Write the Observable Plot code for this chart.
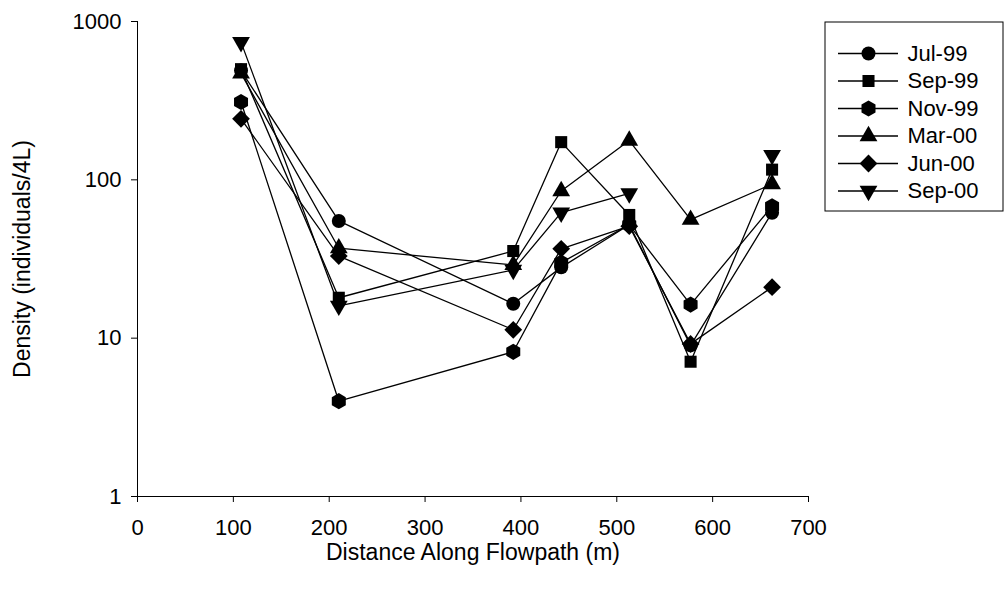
<!DOCTYPE html>
<html><head><meta charset="utf-8">
<script src="https://cdn.jsdelivr.net/npm/d3@7"></script>
<script src="https://cdn.jsdelivr.net/npm/@observablehq/plot@0.6"></script>
<style>
body{margin:0;background:#fff;}
#wrap{position:relative;width:1008px;height:592px;background:#fff;}
#chart{position:absolute;left:0;top:0;}
#legend{position:absolute;left:824px;top:21px;}
</style></head><body><div id="wrap"><div id="chart"></div><div id="legend"></div></div>
<script>
// ---- data ----
const distances = [108, 210, 392, 442, 513, 577, 662];
const seriesNames = ["Jul-99", "Sep-99", "Nov-99", "Mar-00", "Jun-00", "Sep-00"];
const jul99 = [490, 55, 16.5, 28, 52, 9, 62];
const sep99 = [500, 18, 35.5, 173, 60, 7.1, 116];
const nov99 = [310, 4, 8.2, 30, 52, 16.3, 68];
const mar00 = [470, 37, 29, 85, 177, 56, 94];
const jun00 = [243, 33, 11.3, 36.7, 51, 9.2, 21];
const sep00 = [741, 16, 27, 62, 82, null, 143];
const xTicks = [0, 100, 200, 300, 400, 500, 600, 700];
const yTicks = [1, 10, 100, 1000];

// ---- symbols ----
const sqrt3 = Math.sqrt(3);
const triangleDown = {
  draw(context, size) {
    const y = -Math.sqrt(size / (sqrt3 * 3));
    context.moveTo(0, -y * 2);
    context.lineTo(-sqrt3 * y, y);
    context.lineTo(sqrt3 * y, y);
    context.closePath();
  }
};
const seriesValues = [jul99, sep99, nov99, mar00, jun00, sep00];
const symbols = ["circle", "square", "hexagon", "triangle", "diamond2", triangleDown];
const radii = [7, 6.8, 7, 6.6, 8, 6.6];

const table = [];
seriesNames.forEach((name, i) => {
  distances.forEach((d, j) => {
    const v = seriesValues[i][j];
    table.push({series: name, x: d, y: v == null ? NaN : v});
  });
});

const font = "'Liberation Sans', Arial, Helvetica, sans-serif";

const dots = seriesNames.map((name, i) =>
  Plot.dot(table.filter(d => d.series === name && !isNaN(d.y)), {
    x: "x", y: "y", symbol: symbols[i], r: radii[i], fill: "#000", stroke: "none"
  })
);

const chart = Plot.plot({
  width: 812, height: 592,
  marginLeft: 137, marginRight: 4, marginTop: 21, marginBottom: 96,
  style: {fontFamily: font, fontSize: "22px", color: "#000", background: "#fff", overflow: "visible"},
  x: {domain: [0, 700], label: null},
  y: {type: "log", domain: [1, 1000], label: null},
  marks: [
    Plot.axisX({ticks: xTicks, tickSize: 6, tickPadding: 17, tickFormat: d => String(d), label: null, fontSize: 22}),
    Plot.axisY({ticks: yTicks, tickSize: 6, tickPadding: 10, tickFormat: d => String(d), label: null, fontSize: 22}),
    Plot.ruleX([0], {stroke: "#000"}),
    Plot.ruleY([1], {stroke: "#000"}),
    Plot.line(table, {x: "x", y: "y", z: "series", stroke: "#000", strokeWidth: 1.3}),
    ...dots,
    Plot.text(["Density (individuals/4L)"], {text: d => d, frameAnchor: "left", dx: -115, rotate: -90, textAnchor: "middle", lineAnchor: "middle", fontSize: 23}),
    Plot.text(["Distance Along Flowpath (m)"], {text: d => d, frameAnchor: "bottom", dy: 56, textAnchor: "middle", lineAnchor: "middle", fontSize: 23})
  ]
});
document.getElementById("chart").appendChild(chart);

// ---- legend ----
const legW = 179, legH = 190;
const legRows = seriesNames.map((name, i) => ({name, i, y: 32 + 27.5 * i}));
const legend = Plot.plot({
  width: legW, height: legH,
  margin: 0,
  style: {fontFamily: font, fontSize: "22px", color: "#000", background: "#fff", overflow: "visible"},
  x: {domain: [0, legW], range: [0, legW], axis: null},
  y: {domain: [0, legH], range: [0, legH], axis: null},
  marks: [
    Plot.frame({stroke: "#000", inset: 0.5}),
    Plot.ruleY(legRows, {y: "y", x1: 14, x2: 74, stroke: "#000", strokeWidth: 1.3}),
    ...legRows.map(r => Plot.dot([r], {x: () => 44, y: "y", symbol: symbols[r.i], r: radii[r.i], fill: "#000"})),
    Plot.text(legRows, {x: () => 83, y: "y", text: "name", textAnchor: "start", fontSize: 22})
  ]
});
document.getElementById("legend").appendChild(legend);
</script></body></html>
